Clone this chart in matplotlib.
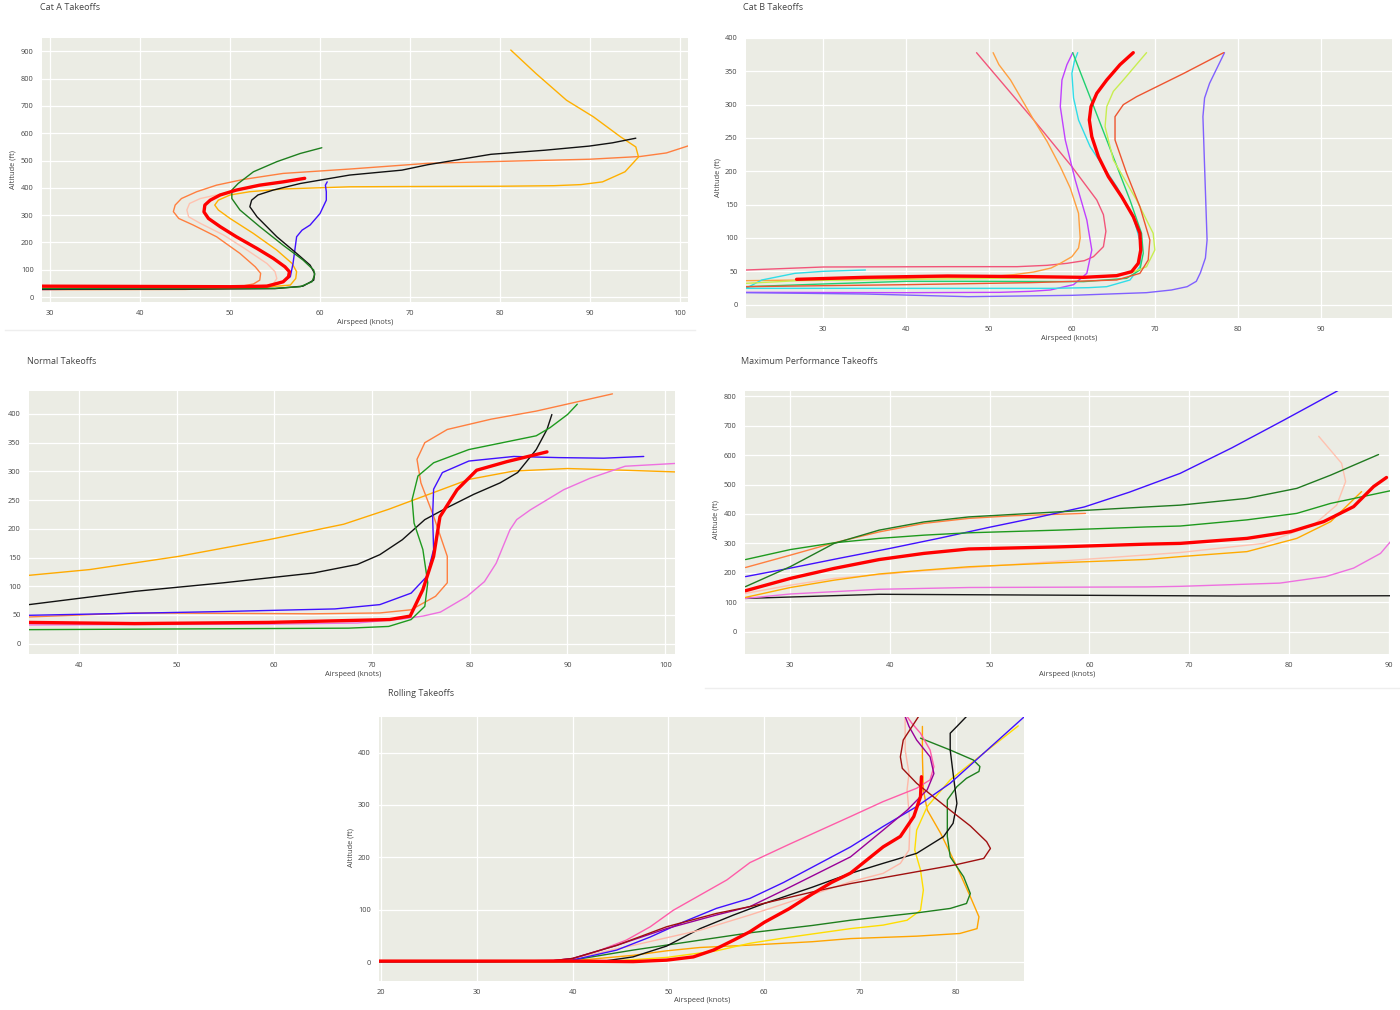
import matplotlib
matplotlib.use("Agg")
import matplotlib.pyplot as plt
from matplotlib.lines import Line2D

plt.rcParams['font.family'] = ['Open Sans', 'DejaVu Sans']

W, H = 1400, 1010
BG = '#ebece4'
TXT = '#444444'

# ---------------- Cat A takeoffs ----------------
cata_coral_x = [29.0, 45, 50, 52.6, 53.3, 53.4, 52.8, 51.1, 48.5, 45.9, 44.3, 43.7, 43.9, 44.6, 46.3, 48.5, 51.5, 55.9, 63.3, 72, 80, 90, 95.6, 98.5, 101.5]
cata_coral_y = [27, 28, 32, 48, 62, 87, 111, 160, 221, 264, 288, 313, 337, 361, 386, 410, 431, 453, 469, 490, 497, 505, 515, 528, 560]
cata_peach_x = [29, 45, 52, 54.8, 55.2, 55.0, 54.1, 51.9, 49.3, 46.7, 45.4, 45.2, 45.5, 46.7, 48.5, 50.4, 53.3, 56.7]
cata_peach_y = [35, 35, 36, 48, 68, 93, 123, 172, 227, 270, 294, 319, 343, 361, 374, 388, 407, 428]
cata_red_x = [29, 40, 50, 54.1, 55.9, 56.5, 56.6, 56.1, 54.8, 53.0, 50.7, 48.9, 47.6, 47.1, 47.2, 47.8, 48.9, 50.7, 53.3, 55.9, 58.3]
cata_red_y = [40, 39, 38, 40, 56, 74.5, 93, 111, 142, 178, 221, 258, 288, 312, 337, 355, 374, 392, 410, 422, 435]
cata_amber_x = [29, 45, 53, 56.7, 57.3, 57.4, 56.9, 55.2, 52.6, 50.0, 48.7, 48.3, 48.7, 50.0, 52.2, 55.9, 63.3, 70, 80, 86, 89, 91.4, 93.9, 95.4, 95.1, 93.4, 90.4, 87.4, 84, 81.2]
cata_amber_y = [32, 32, 34, 44, 68, 93, 123, 172, 233, 288, 319, 337, 355, 374, 386, 396, 404, 405, 406, 408, 412, 422, 459, 513, 550, 587, 660, 721, 819, 905]
cata_green_x = [29, 45, 55, 57.8, 59.1, 59.4, 59.3, 58.1, 55.9, 53.3, 51.1, 50.2, 50.2, 50.9, 52.6, 55.2, 57.8, 60.2]
cata_green_y = [31, 31, 32, 38, 56, 81, 99, 136, 190, 258, 319, 361, 392, 416, 459, 496, 526, 547]
cata_black_x = [29, 45, 55, 58.1, 59.3, 59.4, 58.9, 57.4, 55.2, 53.0, 52.2, 52.4, 53.1, 54.8, 57.8, 63.3, 69.1, 72, 79, 85, 89.9, 92.5, 95.1]
cata_black_y = [29, 29, 31, 40, 62, 87, 117, 160, 221, 294, 331, 355, 374, 392, 416, 447, 465, 485, 523, 538, 553, 565, 582]
cata_blue_x = [29, 35, 45, 52, 54.8, 55.9, 56.7, 57.0, 57.2, 57.4, 58.0, 58.9, 60.0, 60.7, 60.7, 60.6, 60.8]
cata_blue_y = [28, 29, 31, 35, 44, 56, 74.5, 123, 172, 221, 245, 264, 306, 355, 386, 410, 422]

# ---------------- Cat B takeoffs ----------------
catb_pink_x = [20.7, 30, 45, 53.4, 57, 59.4, 61.5, 62.6, 63.8, 64.1, 63.8, 63.0, 61.5, 60.0, 55.4, 48.5]
catb_pink_y = [52, 56.5, 57, 57, 59, 62, 66, 72, 87, 110, 135, 157, 182, 207, 277, 378]
catb_orange_x = [20.7, 35, 45, 50, 53, 55.4, 57.5, 58.6, 60.0, 60.8, 61.0, 60.8, 59.8, 58.6, 57, 55.4, 52.6, 51.2, 50.5]
catb_orange_y = [36, 38, 41, 42, 45, 49, 55, 62, 72, 85, 100, 137, 175, 207, 245, 277, 337, 360, 378]
catb_violet_x = [20.7, 40, 51.3, 55, 57.4, 60.2, 61.8, 62.4, 61.8, 60.4, 59.2, 58.6, 58.8, 59.4, 60.1]
catb_violet_y = [18.5, 18, 18.5, 20, 22, 30, 47, 82, 127, 187, 247, 297, 337, 360, 378]
catb_lavender_x = [20.7, 35, 47.5, 60, 69, 72, 73.9, 75.0, 75.5, 76.1, 76.3, 76.0, 75.8, 76.0, 76.6, 77.5, 78.4]
catb_lavender_y = [18, 16, 12, 14, 18, 22, 27, 35, 48, 70, 97, 207, 282, 310, 332, 355, 378]
catb_cyan_x = [20.7, 40, 57.4, 62, 64.2, 67, 68.2, 68.4, 67.4, 65.4, 62.2, 60.8, 60.2, 60.0, 60.3, 60.7]
catb_cyan_y = [24.5, 24.5, 24.5, 25.5, 27, 37, 57, 87, 132, 177, 237, 277, 310, 347, 365, 378]
catb_cyan2_x = [20.7, 22.6, 26.6, 30, 35.1]
catb_cyan2_y = [24.5, 37, 47, 50, 52]
catb_spring_x = [20.7, 30, 40, 50, 61.4, 66.6, 68.2, 68.6, 68.4, 67, 64.2, 60.1]
catb_spring_y = [27, 31, 35, 35, 34.5, 39.5, 52, 77, 107, 157, 247, 378]
catb_red_x = [26.8, 35, 45, 55, 61.4, 65.4, 67.2, 68.0, 68.3, 68.2, 67.4, 66.0, 64.4, 63.2, 62.4, 62.1, 62.3, 63.0, 64.2, 65.8, 67.4]
catb_red_y = [38, 41, 43, 42, 41, 43.5, 49.5, 62, 82, 107, 132, 162, 192, 222, 252, 277, 297, 317, 337, 360, 378]
catb_lime_x = [20.7, 27, 40, 55, 63, 67, 69, 70, 69.8, 67.8, 65, 64, 64.2, 65, 66.2, 69]
catb_lime_y = [32, 36, 38, 40, 42, 47, 57, 82, 107, 157, 217, 267, 297, 320, 337, 378]
catb_tomato_x = [20.7, 40, 55, 65.4, 68.2, 69.2, 69.4, 68.2, 66.6, 65.2, 65.2, 66.2, 67.8, 73.5, 78.3]
catb_tomato_y = [27, 30, 33, 37, 47, 67, 97, 147, 197, 247, 282, 300, 312, 347, 378]

# ---------------- Normal takeoffs ----------------
norm_coral_x = [34.9, 45.7, 64, 70.8, 74, 76.5, 77.7, 77.7, 76.3, 75, 74.6, 75.4, 77.7, 82.2, 86.8, 94.6]
norm_coral_y = [46.5, 53.5, 52, 53.5, 59, 82.5, 106, 152, 222, 280, 321, 350, 373, 391, 405, 435]
norm_green_x = [34.9, 67.6, 71.7, 74, 75.4, 75.7, 75.2, 74.3, 74.1, 74.7, 76.3, 79.9, 86.8, 88.2, 90, 91]
norm_green_y = [24.4, 27, 30, 42, 65, 106, 164, 210, 251, 292, 315, 338, 362, 376, 399, 417]
norm_black_x = [34.9, 45.7, 54.8, 64, 68.5, 70.8, 73.1, 75.4, 77.7, 80.4, 83.1, 84.9, 86.8, 87.9, 88.4]
norm_black_y = [68, 91, 106, 123, 138, 155, 181, 216, 237, 260, 280, 298, 338, 373, 399]
norm_blue_x = [34.9, 54.8, 66.2, 70.8, 74, 75.6, 76.3, 76.2, 76.3, 77.2, 79.9, 84.5, 89.1, 93.7, 97.8]
norm_blue_y = [49.4, 56, 60.5, 68, 88, 117, 164, 222, 269, 298, 318, 326, 324, 323, 326]
norm_red_x = [34.9, 45.7, 59.4, 71.8, 73.9, 75.2, 76.3, 76.95, 78.7, 80.7, 83.8, 87.9]
norm_red_y = [37, 35, 37, 42, 48, 94, 152, 221, 268, 302, 317, 334]
norm_amber_x = [34.9, 41.1, 50.2, 59.4, 67.1, 71.7, 75.8, 79.9, 84.5, 90, 95.9, 101.2]
norm_amber_y = [119, 129, 152, 181, 208, 234, 260, 286, 300.6, 305, 302, 299]
norm_violet_x = [34.9, 60, 68.5, 73.1, 75.2, 77, 79.7, 81.5, 82.7, 84.1, 84.8, 86.2, 89.6, 92.3, 95.9, 101.2]
norm_violet_y = [32.6, 34, 36, 43, 48, 55, 82, 108, 140, 198, 216, 233, 268, 288, 309, 314]

# ---------------- Maximum performance takeoffs ----------------
maxp_blue_x = [25.5, 30, 35, 40, 45, 50, 55, 59.5, 64, 69.1, 74.3, 79.5, 82, 84.7, 85.2]
maxp_blue_y = [187, 216, 250, 283, 318, 355, 390, 424, 474, 538, 625, 719, 765, 815, 825]
maxp_dkgreen_x = [25.5, 30, 34.4, 38.9, 43.4, 47.9, 56.8, 65.8, 69.1, 75.8, 80.8, 84.2, 89]
maxp_dkgreen_y = [153, 221, 300, 345, 373, 390, 407, 424, 430, 453, 487, 532, 602]
maxp_green_x = [25.5, 30, 34.4, 38.9, 43.4, 47.9, 56.8, 65.8, 69.1, 75.8, 80.8, 84.2, 90.2]
maxp_green_y = [245, 279, 302, 317, 328, 336, 345, 356, 359, 380, 402, 436, 479]
maxp_coral_x = [25.5, 30, 34.4, 38.9, 43.4, 47.9, 52.4, 59.6]
maxp_coral_y = [218, 260, 302, 339, 368, 385, 394, 402]
maxp_red_x = [25.5, 30, 34.4, 38.9, 43.4, 47.9, 56.8, 65.8, 69.1, 75.8, 80.2, 83.5, 86.5, 88.5, 89.8]
maxp_red_y = [139, 181, 215, 245, 266, 281, 288, 297.5, 300, 317, 340, 374, 425, 493, 524]
maxp_amber_x = [25.5, 30, 34.4, 38.9, 43.4, 47.9, 56.8, 65.8, 69.1, 75.8, 80.8, 84.2, 87.3]
maxp_amber_y = [116.5, 150, 175, 196, 209, 220.6, 234, 245.5, 255, 272, 317, 374, 476]
maxp_peach_x = [25.5, 30, 34.4, 43.4, 52.4, 61.3, 69.1, 77.5, 82.5, 84.8, 85.7, 85.3, 83]
maxp_peach_y = [130, 158, 181, 207, 228.5, 250, 269, 300, 363, 430, 510, 572, 664]
maxp_violet_x = [25.5, 30, 38.9, 47.9, 65.8, 69.1, 79.1, 83.7, 86.5, 89.2, 90.2]
maxp_violet_y = [113, 128, 144, 150, 152, 154, 165, 187, 216, 266, 306]
maxp_black_x = [25.5, 38.9, 56.8, 74.8, 90.2]
maxp_black_y = [113, 127, 124, 121, 122]

# ---------------- Rolling takeoffs ----------------
roll_pink_x = [19.8, 30, 38, 40, 42.9, 45.6, 48.1, 50.5, 53.3, 56.1, 58.5, 62.6, 69, 72.4, 75.9, 77.3, 77.7, 77.3, 76.3, 75.4, 74.9]
roll_pink_y = [2, 2, 3, 7, 23, 42, 67.5, 99, 128, 157, 190, 225, 278, 306.5, 332, 348, 373, 405, 437, 456, 469]
roll_blue_x = [19.8, 30, 38, 40, 44.6, 48.1, 51.6, 55, 58.5, 62, 65.5, 69, 72.4, 75.9, 79.4, 82.9, 87.1]
roll_blue_y = [1, 1, 2, 4, 23, 48, 77, 102.6, 121.7, 152, 186, 220, 259, 297, 341.5, 399, 468]
roll_purple_x = [19.8, 30, 38, 40, 44.6, 49.8, 55, 58.5, 62, 65.5, 69, 72.4, 74.9, 77.0, 77.7, 77.3, 75.9, 75.1, 74.7]
roll_purple_y = [2, 2, 3, 7, 32, 64, 90, 106, 137, 169, 201, 252, 290, 329, 360, 392, 424, 450, 469]
roll_dkred_x = [19.8, 30, 38, 40, 44.6, 49.8, 55, 58.5, 62, 65.5, 69, 75.9, 80, 82.9, 83.6, 83.2, 81.5, 79.4, 75.9, 74.4, 74.2, 74.5, 76.1]
roll_dkred_y = [2, 2, 3, 7, 32, 67.5, 93, 106, 121, 136, 150, 172.6, 186, 198, 217, 230, 260, 290, 341.5, 370, 392, 424, 469]
roll_peach_x = [19.8, 30, 38, 40, 46.3, 53.3, 58.5, 62, 65.5, 69, 72.4, 74.2, 75.1, 75.2, 74.9, 75.1, 74.7, 74.7]
roll_peach_y = [2, 2, 3, 7, 32, 61, 90, 111, 132, 153.5, 169.5, 188.6, 214, 265, 329, 360.6, 405, 469]
roll_black_x = [19.8, 30, 40, 42.9, 46.3, 49.8, 53.3, 56.8, 60, 65, 69, 72.4, 75.9, 78.7, 79.7, 80.1, 79.7, 79.4, 79.4, 80.1, 81.1]
roll_black_y = [1, 1, 1, 1, 10, 30.6, 64, 90, 112, 143, 169.5, 188.6, 207.7, 239.6, 265, 303, 360.6, 405, 437, 450, 469]
roll_green_x = [19.8, 30, 38, 40, 46.3, 53.3, 58.5, 65, 69, 75.9, 79.4, 81.1, 81.5, 80.8, 79.4, 79.1, 79.1, 80.1, 81.1, 82.4, 82.5, 81.8, 79.4, 76.3]
roll_green_y = [1, 1, 2, 4, 23, 42, 56, 70, 80, 94, 102.5, 112, 131, 163, 201, 239.6, 309.7, 335, 351, 364, 373.4, 386, 405, 427.6]
roll_orange_x = [19.8, 30, 38, 40, 46.3, 49.8, 53.3, 58.5, 65, 69, 75.9, 80.4, 82.2, 82.4, 81.5, 80.1, 78.4, 77, 76.6, 76.5, 76.5]
roll_orange_y = [1, 1, 1, 2.5, 13, 21.6, 28, 32.5, 39, 45, 49.6, 54.7, 64, 86.6, 125, 182, 246, 290.6, 329, 392.5, 450]
roll_gold_x = [19.8, 30, 40, 42.9, 49.8, 55, 58.5, 62, 65.5, 69, 72.4, 74.9, 76.3, 76.6, 76.3, 75.7, 75.9, 77, 79.4, 82.9, 86.5]
roll_gold_y = [1, 1, 1, 0.6, 9, 21.6, 36, 46, 55, 64, 70.7, 80, 99, 137.6, 176, 214, 252, 297, 348, 399, 451]
roll_red_x = [19.8, 30, 40, 46.3, 49.8, 52.6, 54.7, 56.8, 58.5, 60, 62.6, 65, 67, 69, 70.7, 72.4, 74.2, 75.6, 76.3, 76.4]
roll_red_y = [2, 2, 2, 1, 3.8, 10, 23, 42, 58, 76, 102, 130, 152, 170, 195, 220, 240, 278, 316, 354]

THIN = 1.0
THICK = 2.4

panels = [
    dict(title="Cat A Takeoffs", rect=(42, 38, 688, 302), xlim=(29.1, 100.9), ylim=(-18, 949),
         xticks=range(30, 101, 10), yticks=range(0, 901, 100),
         title_xy=(40, 8), xlab_xy=(365, 322), ylab_xy=(13, 170),
         lines=[(cata_coral_x, cata_coral_y, '#ff7f3f', THIN),
                (cata_peach_x, cata_peach_y, '#ffc2b0', THIN),
                (cata_amber_x, cata_amber_y, '#ffb000', THIN),
                (cata_blue_x, cata_blue_y, '#4010ff', THIN),
                (cata_black_x, cata_black_y, '#111111', THIN),
                (cata_green_x, cata_green_y, '#1e7f1e', THIN),
                (cata_red_x, cata_red_y, '#ff0000', THICK)]),
    dict(title="Cat B Takeoffs", rect=(746, 38, 1392, 318), xlim=(20.7, 98.6), ylim=(-20, 400),
         xticks=range(30, 91, 10), yticks=range(0, 401, 50),
         title_xy=(743, 8), xlab_xy=(1069, 338), ylab_xy=(718, 178),
         lines=[(catb_pink_x, catb_pink_y, '#f2557a', THIN),
                (catb_orange_x, catb_orange_y, '#ffa040', THIN),
                (catb_violet_x, catb_violet_y, '#c040ff', THIN),
                (catb_lavender_x, catb_lavender_y, '#8060ff', THIN),
                (catb_cyan_x, catb_cyan_y, '#30dde8', THIN),
                (catb_cyan2_x, catb_cyan2_y, '#30dde8', THIN),
                (catb_spring_x, catb_spring_y, '#20d070', THIN),
                (catb_lime_x, catb_lime_y, '#c8ee50', THIN),
                (catb_tomato_x, catb_tomato_y, '#ee5530', THIN),
                (catb_red_x, catb_red_y, '#ff0000', THICK)]),
    dict(title="Normal Takeoffs", rect=(29, 391, 675, 654), xlim=(34.9, 101), ylim=(-18, 440),
         xticks=range(40, 101, 10), yticks=range(0, 401, 50),
         title_xy=(27, 361), xlab_xy=(353, 675), ylab_xy=None,
         lines=[(norm_amber_x, norm_amber_y, '#ffaa00', THIN),
                (norm_coral_x, norm_coral_y, '#ff7f3f', THIN),
                (norm_violet_x, norm_violet_y, '#ee70e0', THIN),
                (norm_black_x, norm_black_y, '#111111', THIN),
                (norm_blue_x, norm_blue_y, '#4010ff', THIN),
                (norm_green_x, norm_green_y, '#1e9a1e', THIN),
                (norm_red_x, norm_red_y, '#ff0000', THICK)]),
    dict(title="Maximum Performance Takeoffs", rect=(745, 391, 1390, 654), xlim=(25.45, 90.15), ylim=(-76, 818),
         xticks=range(30, 91, 10), yticks=range(0, 801, 100),
         title_xy=(741, 361), xlab_xy=(1067, 675), ylab_xy=(716, 520),
         lines=[(maxp_black_x, maxp_black_y, '#1a1a1a', THIN),
                (maxp_violet_x, maxp_violet_y, '#ee70e0', THIN),
                (maxp_peach_x, maxp_peach_y, '#ffc2b0', THIN),
                (maxp_amber_x, maxp_amber_y, '#ffaa00', THIN),
                (maxp_coral_x, maxp_coral_y, '#ff7f3f', THIN),
                (maxp_blue_x, maxp_blue_y, '#4010ff', THIN),
                (maxp_green_x, maxp_green_y, '#1e9a1e', THIN),
                (maxp_dkgreen_x, maxp_dkgreen_y, '#207a20', THIN),
                (maxp_red_x, maxp_red_y, '#ff0000', THICK)]),
    dict(title="Rolling Takeoffs", rect=(379, 717, 1024, 981), xlim=(19.8, 87.1), ylim=(-36, 468),
         xticks=range(20, 81, 10), yticks=range(0, 401, 100),
         title_xy=(388, 694), xlab_xy=(702, 1001), ylab_xy=(351, 848),
         lines=[(roll_orange_x, roll_orange_y, '#ffa500', THIN),
                (roll_gold_x, roll_gold_y, '#ffdd00', THIN),
                (roll_green_x, roll_green_y, '#1e7f1e', THIN),
                (roll_black_x, roll_black_y, '#111111', THIN),
                (roll_peach_x, roll_peach_y, '#ffb8a8', THIN),
                (roll_pink_x, roll_pink_y, '#ff5ca8', THIN),
                (roll_blue_x, roll_blue_y, '#4010ff', THIN),
                (roll_purple_x, roll_purple_y, '#990099', THIN),
                (roll_dkred_x, roll_dkred_y, '#a01010', THIN),
                (roll_red_x, roll_red_y, '#ff0000', THICK)]),
]

fig = plt.figure(figsize=(W / 100, H / 100), dpi=100)
fig.patch.set_facecolor('white')

for p in panels:
    x0, y0, x1, y1 = p["rect"]
    ax = fig.add_axes([x0 / W, 1 - y1 / H, (x1 - x0) / W, (y1 - y0) / H])
    ax.set_facecolor(BG)
    for xs, ys, col, lw in p["lines"]:
        ax.plot(xs, ys, color=col, lw=lw, solid_joinstyle='round', solid_capstyle='round')
    ax.set_xlim(*p["xlim"])
    ax.set_ylim(*p["ylim"])
    ax.set_xticks(list(p["xticks"]))
    ax.set_yticks(list(p["yticks"]))
    ax.grid(True, color='white', lw=0.9)
    ax.set_axisbelow(True)
    for s in ax.spines.values():
        s.set_visible(False)
    ax.tick_params(length=0, labelsize=5.3, colors=TXT, pad=6)

    tx, ty = p["title_xy"]
    fig.text(tx / W, 1 - ty / H, p["title"], fontsize=6.5, color=TXT, va='center', ha='left')
    lx, ly = p["xlab_xy"]
    fig.text(lx / W, 1 - ly / H, "Airspeed (knots)", fontsize=5.4, color=TXT, va='center', ha='center')
    if p["ylab_xy"] is not None:
        yx, yy = p["ylab_xy"]
        fig.text(yx / W, 1 - yy / H, "Altitude (ft)", fontsize=5.4, color=TXT, va='center', ha='center', rotation=90)

# faint separators between the panels
fig.add_artist(Line2D([5 / W, 695 / W], [1 - 330 / H, 1 - 330 / H], color='#eeeeee', lw=1))
fig.add_artist(Line2D([705 / W, 1400 / W], [1 - 688 / H, 1 - 688 / H], color='#eeeeee', lw=1))

fig.savefig("out.png", dpi=100, facecolor='white')
